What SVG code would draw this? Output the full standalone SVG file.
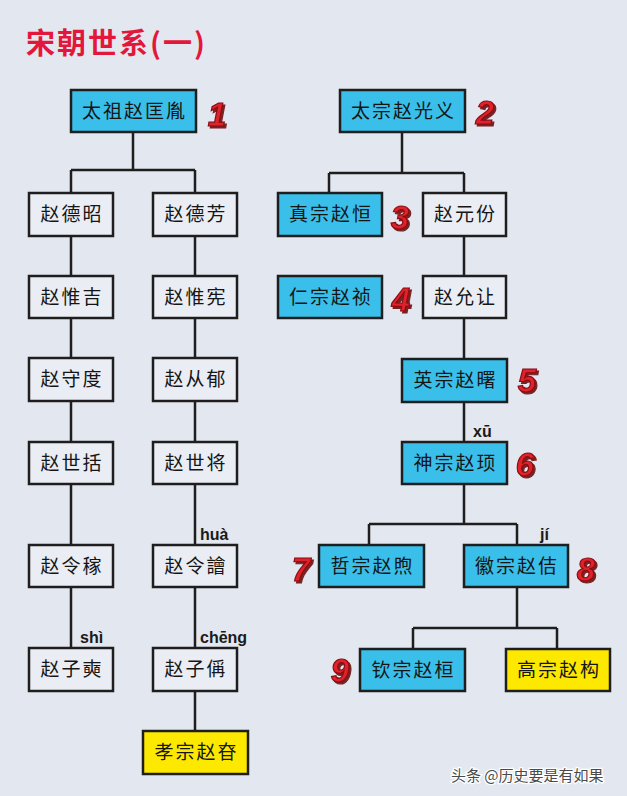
<svg xmlns="http://www.w3.org/2000/svg" width="627" height="796" viewBox="0 0 627 796">
<defs>
<style>
.bg{fill:#e3e7ef}
.box{stroke:#1e1e1e;stroke-width:2.5}
.w{fill:#eaedf4}
.b{fill:#39bfe9}
.y{fill:#fde900}
.t{font-family:"Noto Sans CJK SC","Noto Sans CJK TC",sans-serif;font-size:19px;fill:#151515;text-anchor:middle;letter-spacing:2px}
.c{fill:none;stroke:#1e1e1e;stroke-width:2.5}
.py{font-family:"Liberation Sans",Arial,sans-serif;font-size:16px;font-weight:bold;fill:#1a1a1a}
.n{font-family:"Liberation Sans",Arial,sans-serif;font-size:33px;font-weight:bold;font-style:italic;fill:#e0202a;stroke:#8a0c12;stroke-width:1.2;text-anchor:middle;filter:url(#sh)}
</style>
<filter id="sh" x="-30%" y="-30%" width="160%" height="160%">
<feDropShadow dx="2" dy="2" stdDeviation="0.6" flood-color="#6a080d" flood-opacity="0.9"/>
</filter>
</defs>
<rect class="bg" x="0" y="0" width="627" height="796"/>
<text x="26" y="54" font-family="Noto Sans CJK SC,sans-serif" font-size="29" font-weight="bold" letter-spacing="2" fill="#e3173b">宋朝世系(一)</text>

<g id="connectors">
<path class="c" d="M133,132V170M71,170H195M71,170V193M195,170V193"/>
<path class="c" d="M71,236V276M71,318V358M71,401V442M71,484V545M71,587V648"/>
<path class="c" d="M195,236V276M195,318V358M195,401V442M195,484V545M195,587V648M195,691V731"/>
<path class="c" d="M402,132V173M329,173H464M329,173V193M464,173V193"/>
<path class="c" d="M464,236V276M464,318V359M464,402V442M464,484V524M369,524H517M369,524V545M517,524V545"/>
<path class="c" d="M517,587V628M413,628H557M413,628V649M557,628V649"/>
</g>

<g id="n-taizu"><rect class="box b" x="71" y="90" width="125" height="42"/><text class="t" x="134.5" y="118">太祖赵匡胤</text></g>
<g id="n-taizong"><rect class="box b" x="340" y="90" width="125" height="42"/><text class="t" x="403.5" y="118">太宗赵光义</text></g>

<g id="n-dezhao"><rect class="box w" x="29" y="193" width="84" height="43"/><text class="t" x="72" y="221">赵德昭</text></g>
<g id="n-defang"><rect class="box w" x="153" y="193" width="84" height="43"/><text class="t" x="196" y="221">赵德芳</text></g>
<g id="n-weiji"><rect class="box w" x="29" y="276" width="84" height="42"/><text class="t" x="72" y="304">赵惟吉</text></g>
<g id="n-weixian"><rect class="box w" x="153" y="276" width="84" height="42"/><text class="t" x="196" y="304">赵惟宪</text></g>
<g id="n-shoudu"><rect class="box w" x="29" y="358" width="84" height="43"/><text class="t" x="72" y="386">赵守度</text></g>
<g id="n-congyu"><rect class="box w" x="153" y="358" width="84" height="43"/><text class="t" x="196" y="386">赵从郁</text></g>
<g id="n-shikuo"><rect class="box w" x="29" y="442" width="84" height="42"/><text class="t" x="72" y="470">赵世括</text></g>
<g id="n-shijiang"><rect class="box w" x="153" y="442" width="84" height="42"/><text class="t" x="196" y="470">赵世将</text></g>
<g id="n-lingjia"><rect class="box w" x="29" y="545" width="84" height="42"/><text class="t" x="72" y="573">赵令稼</text></g>
<g id="n-linghua"><rect class="box w" x="153" y="545" width="84" height="42"/><text class="t" x="196" y="573">赵令譮</text></g>
<g id="n-zishi"><rect class="box w" x="29" y="648" width="84" height="43"/><text class="t" x="72" y="676">赵子奭</text></g>
<g id="n-zicheng"><rect class="box w" x="153" y="648" width="84" height="43"/><text class="t" x="196" y="676">赵子偁</text></g>
<g id="n-xiaozong"><rect class="box y" x="143" y="731" width="105" height="43"/><text class="t" x="196.5" y="759">孝宗赵昚</text></g>

<g id="n-zhenzong"><rect class="box b" x="278" y="193" width="104" height="43"/><text class="t" x="331" y="221">真宗赵恒</text></g>
<g id="n-yuanfen"><rect class="box w" x="423" y="193" width="83" height="43"/><text class="t" x="465.5" y="221">赵元份</text></g>
<g id="n-renzong"><rect class="box b" x="278" y="276" width="104" height="42"/><text class="t" x="331" y="304">仁宗赵祯</text></g>
<g id="n-yunrang"><rect class="box w" x="423" y="276" width="83" height="42"/><text class="t" x="465.5" y="304">赵允让</text></g>
<g id="n-yingzong"><rect class="box b" x="402" y="359" width="105" height="43"/><text class="t" x="455.5" y="387">英宗赵曙</text></g>
<g id="n-shenzong"><rect class="box b" x="402" y="442" width="105" height="42"/><text class="t" x="455.5" y="470">神宗赵顼</text></g>
<g id="n-zhezong"><rect class="box b" x="319" y="545" width="105" height="42"/><text class="t" x="372.5" y="573">哲宗赵煦</text></g>
<g id="n-huizong"><rect class="box b" x="464" y="545" width="104" height="42"/><text class="t" x="517" y="573">徽宗赵佶</text></g>
<g id="n-qinzong"><rect class="box b" x="360" y="649" width="105" height="42"/><text class="t" x="413.5" y="677">钦宗赵桓</text></g>
<g id="n-gaozong"><rect class="box y" x="506" y="649" width="104" height="42"/><text class="t" x="559" y="677">高宗赵构</text></g>

<g id="pinyin">
<text class="py" x="200" y="540">huà</text>
<text class="py" x="80" y="643">shì</text>
<text class="py" x="200" y="643">chēng</text>
<text class="py" x="473" y="437">xū</text>
<text class="py" x="540" y="540" font-weight="normal">jí</text>
</g>

<g id="numbers">
<text class="n" x="217" y="126">1</text>
<text class="n" x="485" y="124">2</text>
<text class="n" x="400" y="229">3</text>
<text class="n" x="401" y="311">4</text>
<text class="n" x="527" y="392">5</text>
<text class="n" x="525" y="476">6</text>
<text class="n" x="301" y="581">7</text>
<text class="n" x="586" y="581">8</text>
<text class="n" x="340" y="682">9</text>
</g>

<text x="451" y="781" font-family="Noto Sans CJK SC,sans-serif" font-size="15" fill="#4a4a4a" stroke="#ffffff" stroke-width="2.5" paint-order="stroke">头条 @历史要是有如果</text>
</svg>
